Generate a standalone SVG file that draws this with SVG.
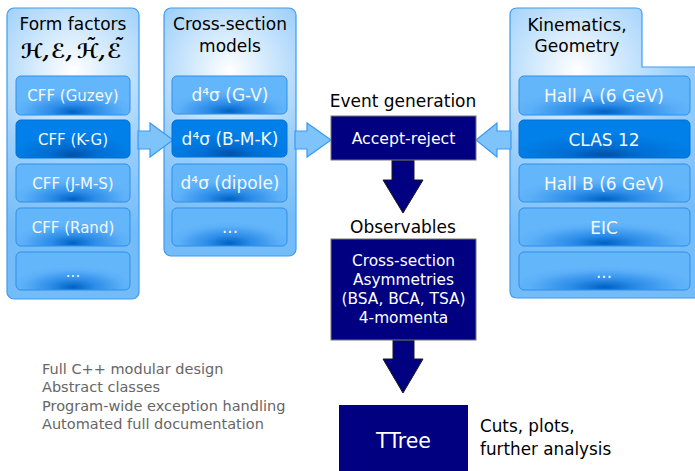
<svg xmlns="http://www.w3.org/2000/svg" width="695" height="471" viewBox="0 0 695 471">
  <defs>
    <radialGradient id="glowL" gradientUnits="userSpaceOnUse" cx="73" cy="70" r="170">
      <stop offset="0" stop-color="#ffffff"/>
      <stop offset="0.22" stop-color="#d6ebfd"/>
      <stop offset="0.55" stop-color="#9ccffb"/>
      <stop offset="1" stop-color="#74bcf8"/>
    </radialGradient>
    <radialGradient id="glowM" gradientUnits="userSpaceOnUse" cx="230" cy="70" r="160">
      <stop offset="0" stop-color="#ffffff"/>
      <stop offset="0.22" stop-color="#d6ebfd"/>
      <stop offset="0.55" stop-color="#9ccffb"/>
      <stop offset="1" stop-color="#74bcf8"/>
    </radialGradient>
    <radialGradient id="glowR" gradientUnits="userSpaceOnUse" cx="577" cy="70" r="180">
      <stop offset="0" stop-color="#ffffff"/>
      <stop offset="0.22" stop-color="#d6ebfd"/>
      <stop offset="0.55" stop-color="#9ccffb"/>
      <stop offset="1" stop-color="#74bcf8"/>
    </radialGradient>
    <radialGradient id="boxLight" cx="0.5" cy="0.92" r="0.55">
      <stop offset="0" stop-color="#0062c4"/>
      <stop offset="0.35" stop-color="#2c8ce8"/>
      <stop offset="0.8" stop-color="#5cb0f8"/>
      <stop offset="1" stop-color="#64b6fa"/>
    </radialGradient>
    <radialGradient id="boxDark" cx="0.5" cy="0.92" r="0.55">
      <stop offset="0" stop-color="#0052a8"/>
      <stop offset="0.4" stop-color="#006ed4"/>
      <stop offset="1" stop-color="#0080e8"/>
    </radialGradient>
  </defs>
  <style>
    text { font-family: "DejaVu Sans", "Liberation Sans", sans-serif; }
    .panel { stroke: #3d9cf0; stroke-width: 1.2; }
    .box { fill: url(#boxLight); stroke: #2f8fe8; stroke-width: 1; }
    .box.sel { fill: url(#boxDark); stroke: #0070d8; }
    .title { font-size: 17px; fill: #000; text-anchor: middle; }
    .script { font-family: "DejaVu Serif", "DejaVu Sans", serif; font-size: 20px; font-weight: bold; font-style: italic; fill: #000; }
    .lbl15 { font-size: 15px; fill: #f2f8ff; text-anchor: middle; }
    .lbl17 { font-size: 17px; fill: #f2f8ff; text-anchor: middle; }
    .navy { fill: #000080; stroke: #777; stroke-width: 1; }
    .navytxt { fill: #ffffff; text-anchor: middle; }
    .blue-arrow { fill: #7ec3fa; stroke: #3a9af0; stroke-width: 1.2; stroke-linejoin: miter; }
    .down-arrow { fill: #000080; stroke: #1a1a1a; stroke-width: 1; }
    .note { font-size: 14.5px; fill: #666; }
  </style>

  <!-- panel backgrounds -->
  <g id="panel-formfactors">
    <rect class="panel" x="7" y="8" width="132" height="291" rx="7" fill="url(#glowL)"/>
    <text class="title" x="73" y="30">Form factors</text>
    <!-- H, E, H-tilde, E-tilde: tildes set as accents within the same line -->
    <text class="script"><tspan x="21" y="58">ℋ,</tspan><tspan x="51" y="58">ℰ,</tspan><tspan x="77" y="58">ℋ,</tspan><tspan x="107" y="58">ℰ</tspan><tspan x="85" y="53">˜</tspan><tspan x="113" y="53">˜</tspan></text>
  </g>
  <g id="panel-models">
    <rect class="panel" x="164" y="8" width="132" height="248" rx="7" fill="url(#glowM)"/>
    <text class="title" x="230" y="30">Cross-section</text>
    <text class="title" x="230" y="52">models</text>
  </g>
  <g id="panel-kinematics">
    <path class="panel" fill="url(#glowR)" d="M517,8 H636 Q642,8 642,14 V67 H700 V298 H517 Q510,298 510,291 V15 Q510,8 517,8 Z"/>
    <text class="title" x="577" y="31">Kinematics,</text>
    <text class="title" x="577" y="52">Geometry</text>
  </g>

  <!-- connectors -->
  <g id="connectors">
    <polygon class="blue-arrow" points="138,131 150,131 150,123 173,140 150,157 150,149 138,149"/>
    <polygon class="blue-arrow" points="295,131 307,131 307,123 331,140 307,157 307,149 295,149"/>
    <polygon class="blue-arrow" points="511,131 497,131 497,123 476,140 497,157 497,149 511,149"/>
    <polygon class="down-arrow" points="392,160 414,160 414,180 423,180 403,213 383,180 392,180"/>
    <polygon class="down-arrow" points="393,340 414,340 414,359 423,359 403,393 383,359 393,359"/>
  </g>

  <!-- form factor models -->
  <g id="cff-guzey"><rect class="box" x="16" y="76" width="114" height="39" rx="5"/><text class="lbl15" x="73" y="101">CFF (Guzey)</text></g>
  <g id="cff-kg"><rect class="box sel" x="16" y="120" width="114" height="38" rx="5"/><text class="lbl15" x="73" y="145">CFF (K-G)</text></g>
  <g id="cff-jms"><rect class="box" x="16" y="164" width="114" height="38" rx="5"/><text class="lbl15" x="73" y="189">CFF (J-M-S)</text></g>
  <g id="cff-rand"><rect class="box" x="16" y="208" width="114" height="38" rx="5"/><text class="lbl15" x="73" y="233">CFF (Rand)</text></g>
  <g id="cff-more"><rect class="box" x="16" y="252" width="114" height="38" rx="5"/><text class="lbl15" x="73" y="277">...</text></g>

  <!-- cross-section models -->
  <g id="xs-gv"><rect class="box" x="172" y="76" width="115" height="38" rx="5"/><text class="lbl17" x="230" y="101">d⁴σ (G-V)</text></g>
  <g id="xs-bmk"><rect class="box sel" x="172" y="120" width="115" height="37" rx="5"/><text class="lbl17" x="230" y="145">d⁴σ (B-M-K)</text></g>
  <g id="xs-dipole"><rect class="box" x="172" y="164" width="115" height="38" rx="5"/><text class="lbl17" x="230" y="189">d⁴σ (dipole)</text></g>
  <g id="xs-more"><rect class="box" x="172" y="208" width="115" height="38" rx="5"/><text class="lbl17" x="230" y="233">...</text></g>

  <!-- kinematics / geometry -->
  <g id="kin-halla"><rect class="box" x="519" y="76" width="171" height="39" rx="5"/><text class="lbl17" x="604" y="102">Hall A (6 GeV)</text></g>
  <g id="kin-clas12"><rect class="box sel" x="519" y="120" width="171" height="38" rx="5"/><text class="lbl17" x="604" y="146">CLAS 12</text></g>
  <g id="kin-hallb"><rect class="box" x="519" y="164" width="171" height="38" rx="5"/><text class="lbl17" x="604" y="190">Hall B (6 GeV)</text></g>
  <g id="kin-eic"><rect class="box" x="519" y="208" width="171" height="38" rx="5"/><text class="lbl17" x="604" y="234">EIC</text></g>
  <g id="kin-more"><rect class="box" x="519" y="252" width="171" height="38" rx="5"/><text class="lbl17" x="604" y="278">...</text></g>

  <!-- event generation -->
  <g id="event-generation">
    <text class="title" x="403" y="107">Event generation</text>
    <rect class="navy" x="331" y="116" width="145" height="44"/>
    <text class="navytxt" x="403.5" y="144" font-size="15.7">Accept-reject</text>
  </g>

  <!-- observables -->
  <g id="observables">
    <text class="title" x="403" y="233">Observables</text>
    <rect class="navy" x="331" y="239" width="145" height="101"/>
    <text class="navytxt" x="403.5" y="266" font-size="15.4">Cross-section</text>
    <text class="navytxt" x="403.5" y="285" font-size="15.4">Asymmetries</text>
    <text class="navytxt" x="403.5" y="304" font-size="15.4">(BSA, BCA, TSA)</text>
    <text class="navytxt" x="403.5" y="323" font-size="15.4">4-momenta</text>
  </g>

  <!-- output tree -->
  <g id="ttree">
    <rect x="339" y="405" width="129" height="70" fill="#000080"/>
    <text class="navytxt" x="403.5" y="448" font-size="20.5">TTree</text>
  </g>
  <g id="analysis">
    <text x="480" y="432" font-size="16.8" fill="#000">Cuts, plots,</text>
    <text x="480" y="455" font-size="16.8" fill="#000">further analysis</text>
  </g>

  <!-- design notes -->
  <g id="notes">
    <text class="note" x="42" y="374">Full C++ modular design</text>
    <text class="note" x="42" y="392">Abstract classes</text>
    <text class="note" x="42" y="411">Program-wide exception handling</text>
    <text class="note" x="42" y="429">Automated full documentation</text>
  </g>
</svg>
